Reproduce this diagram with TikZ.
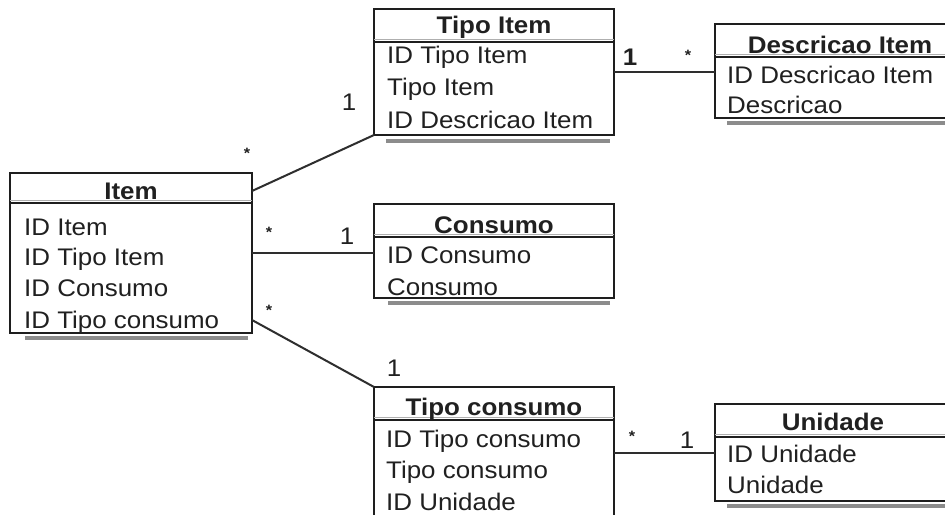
\documentclass[tikz,border=0pt]{standalone}
\usepackage{fontspec}
\setmainfont{Liberation Sans}[FakeStretch=1.08]
\definecolor{boxc}{HTML}{1E1E1E}
\definecolor{linec}{HTML}{2E2E2E}
\definecolor{shadc}{HTML}{8C8C8C}
\definecolor{txtc}{HTML}{202020}
\tikzset{
  entbox/.style={draw=boxc, line width=2.5pt, inner sep=0pt, outer sep=0pt},
  shad/.style={draw=shadc, line width=4pt},
  sepline/.style={draw=boxc, line width=2.6pt},
  sepgray/.style={draw=shadc!70, line width=1.5pt},
  ttl/.style={font=\fontsize{24}{24}\selectfont\bfseries, text=txtc, inner sep=0pt, anchor=base},
  row/.style={font=\fontsize{24}{24}\selectfont, text=txtc, inner sep=0pt, anchor=base west},
  conn/.style={draw=linec, line width=2pt},
  lbl/.style={font=\fontsize{24}{24}\selectfont, text=txtc, inner sep=0pt},
  lblb/.style={font=\fontsize{24}{24}\selectfont\bfseries, text=txtc, inner sep=0pt},
  star/.style={font=\fontsize{15}{15}\selectfont\bfseries, text=txtc, inner sep=0pt}
}
\begin{document}
\begin{tikzpicture}[x=1pt,y=-1pt]
\useasboundingbox[fill=white] (0,0) rectangle (945,514);
\clip (0,0) rectangle (945,514);

% shadows
\draw[shad] (25,338) -- (248,338);
\draw[shad] (386,141) -- (610,141);
\draw[shad] (727,123) -- (960,123);
\draw[shad] (388,303) -- (610,303);
\draw[shad] (727,506) -- (960,506);

% boxes
\node[entbox, minimum width=242pt, minimum height=160pt] (item) at (131,253) {};
\node[entbox, minimum width=240pt, minimum height=126pt] (tipoitem) at (494,72) {};
\node[entbox, minimum width=236pt, minimum height=94pt] (descr) at (833,71) {};
\node[entbox, minimum width=240pt, minimum height=94pt] (consumo) at (494,251) {};
\node[entbox, minimum width=240pt, minimum height=143pt] (tipocons) at (494,458.5) {};
\node[entbox, minimum width=236pt, minimum height=97pt] (unidade) at (833,452.5) {};

% header separators
\draw[sepgray] (item.north west) ++(0,27.5) -- ++(242,0);
\draw[sepline] (item.north west) ++(0,30) -- ++(242,0);
\draw[sepgray] (tipoitem.north west) ++(0,30.5) -- ++(240,0);
\draw[sepline] (tipoitem.north west) ++(0,33) -- ++(240,0);
\draw[sepgray] (descr.north west) ++(0,30.5) -- ++(236,0);
\draw[sepline] (descr.north west) ++(0,33) -- ++(236,0);
\draw[sepgray] (consumo.north west) ++(0,30.5) -- ++(240,0);
\draw[sepline] (consumo.north west) ++(0,33) -- ++(240,0);
\draw[sepgray] (tipocons.north west) ++(0,30.5) -- ++(240,0);
\draw[sepline] (tipocons.north west) ++(0,33) -- ++(240,0);
\draw[sepgray] (unidade.north west) ++(0,30.5) -- ++(236,0);
\draw[sepline] (unidade.north west) ++(0,33) -- ++(236,0);

% titles
\node[ttl] (itemT) at (131,199) {Item};
\node[ttl] (tipoitemT) at (494,33) {Tipo Item};
\node[ttl] (descrT) at (840,53) {Descricao Item};
\node[ttl] (consumoT) at (494,233) {Consumo};
\node[ttl] (tipoconsT) at (494,415) {Tipo consumo};
\node[ttl] (unidadeT) at (833,430) {Unidade};

% rows
\node[row] (i1) at (24,235) {ID Item};
\node[row] (i2) at (24,265) {ID Tipo Item};
\node[row] (i3) at (24,296) {ID Consumo};
\node[row] (i4) at (24,328) {ID Tipo consumo};

\node[row] (t1) at (387,63) {ID Tipo Item};
\node[row] (t2) at (387,95) {Tipo Item};
\node[row] (t3) at (387,128) {ID Descricao Item};

\node[row] (d1) at (727,83) {ID Descricao Item};
\node[row] (d2) at (727,113) {Descricao};

\node[row] (c1) at (387,263) {ID Consumo};
\node[row] (c2) at (387,295) {Consumo};

\node[row] (tc1) at (386,447) {ID Tipo consumo};
\node[row] (tc2) at (386,478) {Tipo consumo};
\node[row] (tc3) at (386,510) {ID Unidade};

\node[row] (u1) at (727,462) {ID Unidade};
\node[row] (u2) at (727,493) {Unidade};

% connectors
\draw[conn] (item.north east) ++(0,18) -- (tipoitem.south west);
\draw[conn] (item.east) -- (item.east -| consumo.west);
\draw[conn] (item.south east) ++(0,-13) -- (tipocons.north west);
\draw[conn] (tipoitem.east) -- (tipoitem.east -| descr.west);
\draw[conn] (unidade.west -| tipocons.east) -- (unidade.west);

% multiplicities
\node[lbl] (m1) at (349,102) {1};
\node[star] (s1) at (247,153) {*};
\node[lbl] (m2) at (347,236) {1};
\node[star] (s2) at (269,232) {*};
\node[lbl] (m3) at (394,368) {1};
\node[star] (s3) at (269,310) {*};
\node[lblb] (m4) at (630,57) {1};
\node[star] (s4) at (688,55) {*};
\node[lbl] (m5) at (687,440) {1};
\node[star] (s5) at (632,436) {*};
\end{tikzpicture}
\end{document}
